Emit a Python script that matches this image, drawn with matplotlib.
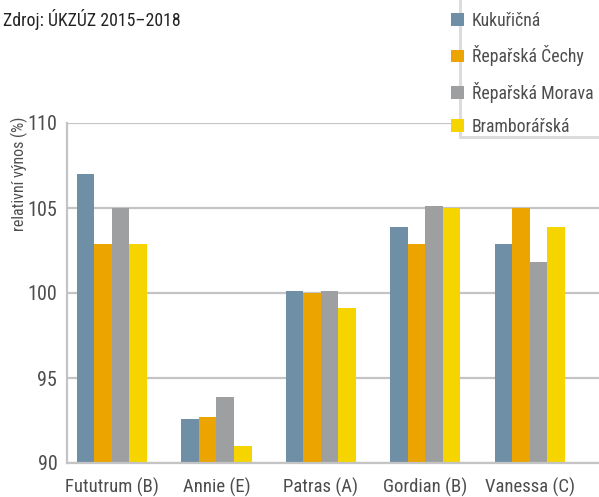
import matplotlib
matplotlib.use("Agg")
import matplotlib.pyplot as plt
from matplotlib import font_manager
from matplotlib.patches import Rectangle, Patch
import numpy as np

categories = ["Fututrum (B)", "Annie (E)", "Patras (A)", "Gordian (B)", "Vanessa (C)"]
series_names = ["Kukuřičná", "Řepařská Čechy", "Řepařská Morava", "Bramborářská"]
kukuricna = [107.0, 92.6, 100.1, 103.9, 102.9]
reparska_cechy = [102.9, 92.7, 100.0, 102.9, 105.0]
reparska_morava = [105.0, 93.9, 100.1, 105.1, 101.8]
bramborarska = [102.9, 91.0, 99.1, 105.0, 103.9]
y_ticks = [90, 95, 100, 105, 110]
title_text = "Zdroj: ÚKZÚZ 2015–2018"
ylabel_text = "relativní výnos (%)"

colors = ["#6e8fa5", "#eca500", "#9e9fa1", "#f6d400"]
text_color = "#4d4d4d"
grid_color = "#c4c4c4"

names = {f.name for f in font_manager.fontManager.ttflist}
family = "DejaVu Sans"
for c in ["Roboto Condensed", "Liberation Sans Narrow"]:
    if c in names:
        family = c
        break
plt.rcParams["font.family"] = [family, "DejaVu Sans"]

fig = plt.figure(figsize=(5.99, 4.97), dpi=100)
W, H = 599, 497
ax = fig.add_axes([67 / W, 1 - 463 / H, 533 / W, 340 / H])

series = [kukuricna, reparska_cechy, reparska_morava, bramborarska]
x = np.arange(len(categories))
bw = 0.1675
for i, (vals, col, nm) in enumerate(zip(series, colors, series_names)):
    ax.bar(x + (i - 1.5) * bw, np.array(vals) - 90, bottom=90, width=bw,
           color=col, label=nm, zorder=3, linewidth=0)

ax.set_ylim(90, 110)
ax.set_xlim(-0.4306, 4.67)
ax.set_yticks(y_ticks)
ax.set_yticklabels([str(t) for t in y_ticks])
ax.set_xticks(x)
ax.set_xticklabels(categories)
ax.tick_params(axis="both", length=0, colors=text_color)
ax.tick_params(axis="y", pad=7, labelsize=14.5)
ax.tick_params(axis="x", pad=11, labelsize=13.5)
ax.yaxis.grid(True, color=grid_color, linewidth=1.6, zorder=0)
ax.set_axisbelow(True)
for s in ["top", "right"]:
    ax.spines[s].set_visible(False)
for s in ["left", "bottom"]:
    ax.spines[s].set_color(grid_color)
    ax.spines[s].set_linewidth(1.6)
    ax.spines[s].set_zorder(4)

fig.text(19 / W, 1 - 174 / H, ylabel_text, rotation=90, ha="center", va="center",
         fontsize=11.5, color=text_color)
fig.text(3 / W, 1 - 26 / H, title_text, ha="left", va="baseline",
         fontsize=12.8, color="#222222")

# legend frame
frame = Rectangle((460 / W, 1 - 137 / H), 160 / W, 160 / H, transform=fig.transFigure,
                  facecolor="white", edgecolor="#dcdcdc", linewidth=2.2, zorder=5)
fig.patches.append(frame)
handles = [Patch(facecolor=c, edgecolor="none") for c in colors]
leg = fig.legend(handles, series_names, loc="upper left",
                 bbox_to_anchor=(451 / W, 1 - 12 / H), frameon=False,
                 fontsize=12.8, handlelength=0.72, handleheight=0.72,
                 handletextpad=0.45, labelspacing=0.86, borderpad=0,
                 borderaxespad=0)
for t in leg.get_texts():
    t.set_color(text_color)
leg.set_zorder(6)

fig.savefig("out.png", dpi=100)
